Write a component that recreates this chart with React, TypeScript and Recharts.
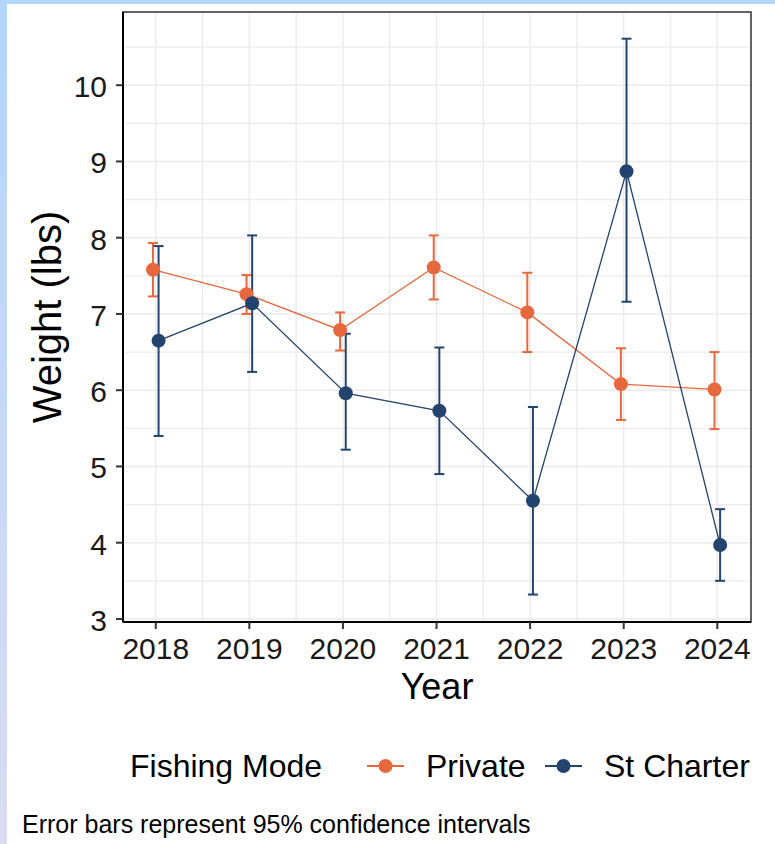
import React from 'react';
import { ComposedChart, Line, XAxis, YAxis, CartesianGrid, ErrorBar, ReferenceArea, Label } from 'recharts';

// mean weight per year, with 95% CI bounds
const years = [2018, 2019, 2020, 2021, 2022, 2023, 2024];
const privateMean = [7.58, 7.26, 6.79, 7.61, 7.02, 6.08, 6.01];
const privateLow = [7.23, 7.0, 6.52, 7.19, 6.5, 5.61, 5.49];
const privateHigh = [7.93, 7.51, 7.02, 8.03, 7.54, 6.55, 6.5];
const charterMean = [6.65, 7.14, 5.96, 5.73, 4.55, 8.87, 3.97];
const charterLow = [5.4, 6.24, 5.22, 4.9, 3.32, 7.16, 3.5];
const charterHigh = [7.89, 8.03, 6.74, 6.56, 5.78, 10.61, 4.44];

const xTicks = [2018, 2018.5, 2019, 2019.5, 2020, 2020.5, 2021, 2021.5, 2022, 2022.5, 2023, 2023.5, 2024];
const yTicks = [3, 3.5, 4, 4.5, 5, 5.5, 6, 6.5, 7, 7.5, 8, 8.5, 9, 9.5, 10, 10.5];

const seriesNames = ['Private', 'St Charter'];
const colors = ['#E8683E', '#23446E'];
const font = '"Liberation Sans", Arial, sans-serif';
const dodge = 0.03;

const makeRows = (mean: number[], low: number[], high: number[], shift: number) =>
  years.map((yr, i) => ({
    x: yr + shift,
    v: mean[i],
    err: [mean[i] - low[i], high[i] - mean[i]],
  }));

const privateRows = makeRows(privateMean, privateLow, privateHigh, -dodge);
const charterRows = makeRows(charterMean, charterLow, charterHigh, dodge);

const YTick = (props: any) => {
  const { x, y, payload } = props;
  if (!Number.isInteger(payload.value)) return <g />;
  return (
    <g>
      <line x1={x - 7} x2={x} y1={y} y2={y} stroke="#333" strokeWidth={2} />
      <text x={x - 16} y={y + 12} textAnchor="end" fontSize={30} fontFamily={font} fill="#1a1a1a">
        {payload.value}
      </text>
    </g>
  );
};

const XTick = (props: any) => {
  const { x, y, payload } = props;
  if (!Number.isInteger(payload.value)) return <g />;
  return (
    <g>
      <line x1={x} x2={x} y1={y} y2={y + 7} stroke="#333" strokeWidth={2} />
      <text x={x} y={y + 37} textAnchor="middle" fontSize={30} fontFamily={font} fill="#1a1a1a">
        {payload.value}
      </text>
    </g>
  );
};

export default function App() {
  return (
    <div style={{ position: 'absolute', left: 0, top: 0, width: 775, height: 844, background: '#fff', overflow: 'hidden' }}>
      <div style={{ position: 'absolute', left: 0, top: 0, width: 775, height: 4, background: '#B2D5FB' }} />
      <div style={{ position: 'absolute', left: 0, top: 0, width: 7, height: 844, background: 'linear-gradient(#B2D5FB, #DADCF2)' }} />
      <div style={{ position: 'absolute', left: 0, top: 0 }}>
        <ComposedChart width={775} height={844} margin={{ top: 12, right: 24, left: 0, bottom: 0 }}>
          <CartesianGrid stroke="#EBEBEB" strokeWidth={1.4} />
          <XAxis
            dataKey="x"
            type="number"
            domain={[2017.65, 2024.36]}
            allowDataOverflow
            ticks={xTicks}
            interval={0}
            height={222}
            tickSize={0}
            tickMargin={0}
            tickLine={false}
            tick={<XTick />}
            axisLine={{ stroke: '#000', strokeWidth: 2 }}
          >
            <Label
              content={(p: any) => (
                <text
                  x={p.viewBox.x + p.viewBox.width / 2}
                  y={p.viewBox.y + 77}
                  textAnchor="middle"
                  fontSize={36}
                  fontFamily={font}
                  fill="#000"
                >
                  Year
                </text>
              )}
            />
          </XAxis>
          <YAxis
            type="number"
            domain={[2.96, 10.96]}
            allowDataOverflow
            ticks={yTicks}
            interval={0}
            width={123}
            tickSize={0}
            tickMargin={0}
            tickLine={false}
            tick={<YTick />}
            axisLine={{ stroke: '#000', strokeWidth: 2 }}
          >
            <Label
              content={(p: any) => {
                const cx = p.viewBox.x + 47;
                const cy = p.viewBox.y + p.viewBox.height / 2;
                return (
                  <text
                    x={cx}
                    y={cy}
                    transform={`rotate(-90 ${cx} ${cy})`}
                    textAnchor="middle"
                    dominantBaseline="central"
                    fontSize={40}
                    fontFamily={font}
                    fill="#000"
                  >
                    Weight (lbs)
                  </text>
                );
              }}
            />
          </YAxis>
          <ReferenceArea x1={2017.65} x2={2024.36} y1={2.96} y2={10.96} fill="none" stroke="#333" strokeWidth={1.5} />
          <Line
            data={privateRows}
            dataKey="v"
            name={seriesNames[0]}
            stroke={colors[0]}
            strokeWidth={1.3}
            dot={{ r: 7, fill: colors[0], stroke: colors[0], strokeWidth: 0 }}
            activeDot={false}
            isAnimationActive={false}
          >
            <ErrorBar dataKey="err" direction="y" width={5} stroke={colors[0]} strokeWidth={2} isAnimationActive={false} />
          </Line>
          <Line
            data={charterRows}
            dataKey="v"
            name={seriesNames[1]}
            stroke={colors[1]}
            strokeWidth={1.3}
            dot={{ r: 7, fill: colors[1], stroke: colors[1], strokeWidth: 0 }}
            activeDot={false}
            isAnimationActive={false}
          >
            <ErrorBar dataKey="err" direction="y" width={5} stroke={colors[1]} strokeWidth={2} isAnimationActive={false} />
          </Line>
        </ComposedChart>
      </div>
      <svg width={775} height={844} style={{ position: 'absolute', left: 0, top: 0, pointerEvents: 'none' }}>
        <g fontFamily={font} fill="#000">
          <text x={130} y={777} fontSize={32}>Fishing Mode</text>
          {[367, 545].map((kx, i) => (
            <g key={seriesNames[i]}>
              <line x1={kx} x2={kx + 37} y1={766} y2={766} stroke={colors[i]} strokeWidth={2} />
              <circle cx={kx + 18.5} cy={766} r={7} fill={colors[i]} />
              <text x={kx + 59} y={777} fontSize={32}>{seriesNames[i]}</text>
            </g>
          ))}
          <text x={22} y={833} fontSize={25}>Error bars represent 95% confidence intervals</text>
        </g>
      </svg>
    </div>
  );
}
